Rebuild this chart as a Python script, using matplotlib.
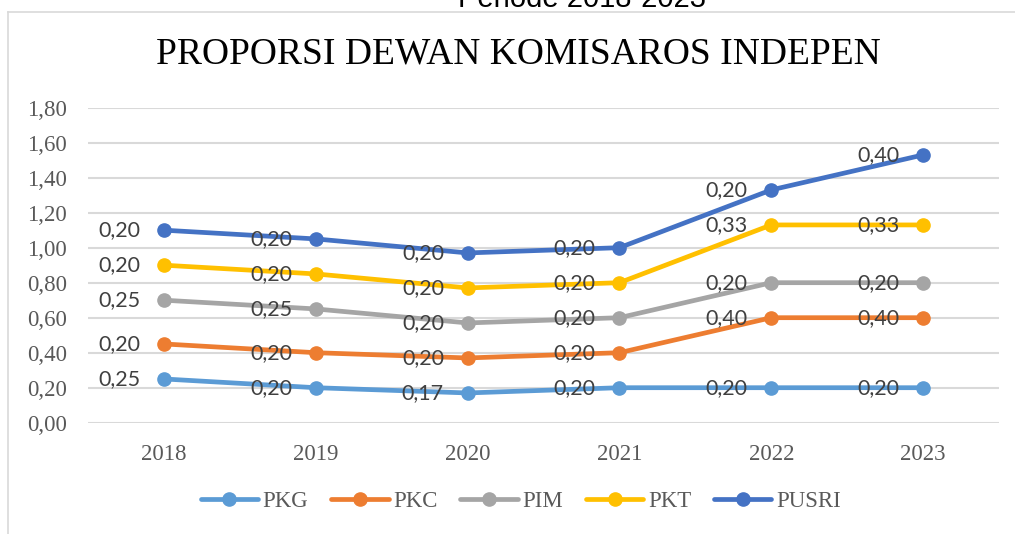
import matplotlib.pyplot as plt
from matplotlib.lines import Line2D
from matplotlib.ticker import FuncFormatter
import numpy as np

# data (stacked line chart, labels show each series' own value)
years = ['2018', '2019', '2020', '2021', '2022', '2023']
pkg = [0.25, 0.20, 0.17, 0.20, 0.20, 0.20]
pkc = [0.20, 0.20, 0.20, 0.20, 0.40, 0.40]
pim = [0.25, 0.25, 0.20, 0.20, 0.20, 0.20]
pkt = [0.20, 0.20, 0.20, 0.20, 0.33, 0.33]
pusri = [0.20, 0.20, 0.20, 0.20, 0.20, 0.40]

names = ['PKG', 'PKC', 'PIM', 'PKT', 'PUSRI']
colors = ['#5B9BD5', '#ED7D31', '#A5A5A5', '#FFC000', '#4472C4']

series = np.array([pkg, pkc, pim, pkt, pusri])
stacked = np.cumsum(series, axis=0)

fig = plt.figure(figsize=(10.15, 5.34), dpi=100)
ax = fig.add_axes([0.0867, 0.2084, 0.8976, 0.590])

x = np.arange(len(years))
for i, name in enumerate(names):
    ax.plot(x, stacked[i], color=colors[i], lw=3.4, marker='o', ms=9.5,
            label=name, zorder=3 + i, solid_capstyle='round')
    for xi, yi, v in zip(x, stacked[i], series[i]):
        ax.annotate(f'{v:.2f}'.replace('.', ','), (xi, yi), xytext=(-17, 0),
                    textcoords='offset points', ha='right', va='center',
                    fontsize=15.5, family='Lato', color='#404040', zorder=10)

ax.set_xlim(-0.5, 5.5)
ax.set_ylim(0, 1.8)
ax.set_yticks(np.arange(0, 1.81, 0.2))
ax.yaxis.set_major_formatter(FuncFormatter(lambda v, p: f'{v:.2f}'.replace('.', ',')))
ax.set_xticks(x)
ax.set_xticklabels(years)
for s in ax.spines.values():
    s.set_visible(False)
ax.grid(axis='y', color='#D9D9D9', lw=1.5, zorder=0)
ax.tick_params(length=0, labelsize=16.5, labelcolor='#595959', pad=15)
for lab in ax.get_xticklabels() + ax.get_yticklabels():
    lab.set_family('Liberation Serif')

fig.text(0.511, 0.899, 'PROPORSI DEWAN KOMISAROS INDEPEN', ha='center', va='center',
         fontsize=27, family='Liberation Serif', color='black')
fig.text(0.573, 0.987, 'Periode 2018-2023', ha='center', va='baseline',
         fontsize=21, family='Liberation Sans', color='black')

# chart frame
fig.add_artist(Line2D([8 / 1015, 8 / 1015], [0, 1 - 12 / 534], color='#D9D9D9', lw=1.2))
fig.add_artist(Line2D([8 / 1015, 1], [1 - 12 / 534, 1 - 12 / 534], color='#D9D9D9', lw=1.2))

leg = fig.legend(loc='center', bbox_to_anchor=(0.513, 0.06), ncol=5, frameon=False,
                 prop={'family': 'Liberation Serif', 'size': 16.5}, labelcolor='#595959',
                 handlelength=2.5, handletextpad=0.2, columnspacing=1.0, numpoints=1)

fig.savefig('out.png', dpi=100)
